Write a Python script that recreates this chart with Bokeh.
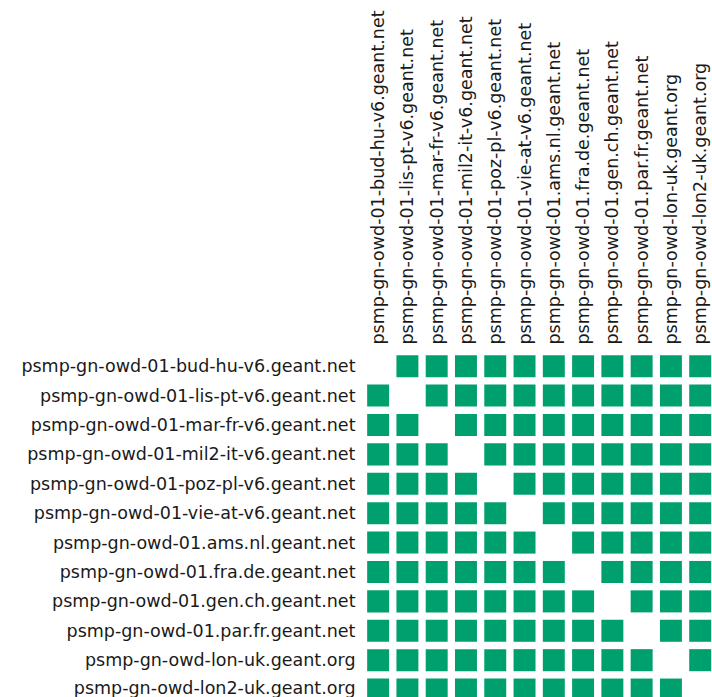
import math
from bokeh.plotting import figure
from bokeh.models import ColumnDataSource, Range1d, FixedTicker
from bokeh.embed import file_html
from bokeh.resources import INLINE

hosts = [
    "psmp-gn-owd-01-bud-hu-v6.geant.net",
    "psmp-gn-owd-01-lis-pt-v6.geant.net",
    "psmp-gn-owd-01-mar-fr-v6.geant.net",
    "psmp-gn-owd-01-mil2-it-v6.geant.net",
    "psmp-gn-owd-01-poz-pl-v6.geant.net",
    "psmp-gn-owd-01-vie-at-v6.geant.net",
    "psmp-gn-owd-01.ams.nl.geant.net",
    "psmp-gn-owd-01.fra.de.geant.net",
    "psmp-gn-owd-01.gen.ch.geant.net",
    "psmp-gn-owd-01.par.fr.geant.net",
    "psmp-gn-owd-lon-uk.geant.org",
    "psmp-gn-owd-lon2-uk.geant.org",
]

# 1 = measurement present (green cell), 0 = no cell
status = [
    [0, 1, 1, 1, 1, 1, 1, 1, 1, 1, 1, 1],
    [1, 0, 1, 1, 1, 1, 1, 1, 1, 1, 1, 1],
    [1, 1, 0, 1, 1, 1, 1, 1, 1, 1, 1, 1],
    [1, 1, 1, 0, 1, 1, 1, 1, 1, 1, 1, 1],
    [1, 1, 1, 1, 0, 1, 1, 1, 1, 1, 1, 1],
    [1, 1, 1, 1, 1, 0, 1, 1, 1, 1, 1, 1],
    [1, 1, 1, 1, 1, 1, 0, 1, 1, 1, 1, 1],
    [1, 1, 1, 1, 1, 1, 1, 0, 1, 1, 1, 1],
    [1, 1, 1, 1, 1, 1, 1, 1, 0, 1, 1, 1],
    [1, 1, 1, 1, 1, 1, 1, 1, 1, 0, 1, 1],
    [1, 1, 1, 1, 1, 1, 1, 1, 1, 1, 0, 1],
    [1, 1, 1, 1, 1, 1, 1, 1, 1, 1, 1, 0],
]

xs, ys = [], []
for r, row in enumerate(status):
    for c, v in enumerate(row):
        if v:
            xs.append(c)
            ys.append(r)
source = ColumnDataSource(data=dict(x=xs, y=ys))

n = len(hosts)
p = figure(
    width=712, height=697,
    x_range=Range1d(start=-0.5, end=n - 0.58),
    y_range=Range1d(start=n - 0.73, end=-0.5),
    x_axis_location="above",
    output_backend="svg", toolbar_location=None, tools="",
    min_border_left=363, min_border_top=351, min_border_right=0, min_border_bottom=0,
)
p.rect(x="x", y="y", width=0.75, height=0.75, source=source,
       fill_color="#00a06e", line_color=None)

p.outline_line_color = None
p.grid.visible = False
p.background_fill_color = "white"

labels = {i: h for i, h in enumerate(hosts)}
for ax in (p.xaxis[0], p.yaxis[0]):
    ax.axis_line_color = None
    ax.major_tick_line_color = None
    ax.minor_tick_line_color = None
    ax.major_tick_out = 0
    ax.major_tick_in = 0
    ax.minor_tick_out = 0
    ax.minor_tick_in = 0
    ax.major_label_text_font = "DejaVu Sans"
    ax.major_label_text_font_size = "17.5px"
    ax.major_label_text_color = "#1a1a1a"
    ax.ticker = FixedTicker(ticks=list(range(n)))
    ax.major_label_overrides = labels

p.xaxis.major_label_orientation = math.pi / 2
p.xaxis.major_label_standoff = 7
p.yaxis.major_label_standoff = 8

open("out.html", "w").write(file_html(p, INLINE))
